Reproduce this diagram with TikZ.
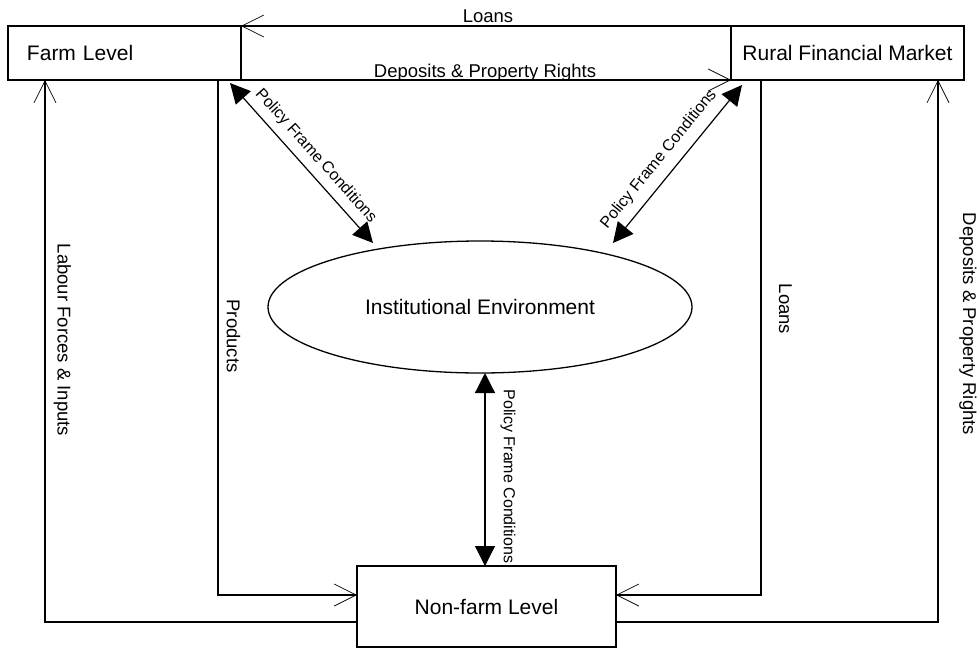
\documentclass[tikz,border=0pt]{standalone}
\usepackage{fontspec}
\setmainfont{Liberation Sans}
\usepackage{tikz}
\usetikzlibrary{shapes,arrows.meta,positioning,calc}

\begin{document}
\begin{tikzpicture}[x=1pt,y=-1pt,
    level/.style={draw,rectangle,line width=2pt,outer sep=0pt,minimum height=54pt,minimum width=233pt,font=\fontsize{21}{25}\selectfont},
    flow/.style={line width=1.4pt,-{Straight Barb[length=22pt,width=22pt,line width=0.7pt]}},
    policy/.style={line width=1.2pt,{Triangle[length=20pt,width=20pt]}-{Triangle[length=20pt,width=20pt]}},
    lbl/.style={font=\fontsize{18.5}{22}\selectfont},
    plbl/.style={font=\fontsize{16}{19}\selectfont}]
    \useasboundingbox (0,0) rectangle (979,648);
    % Levels
    \node[level,text width=195pt,align=left,inner xsep=19pt] (farm) at (124.5,53) {Farm Level};
    \node[level] (rfm) at (847.5,53) {Rural Financial Market};
    \node[level,minimum width=259pt,minimum height=81pt] (nonfarm) at (486.5,606.5) {Non-farm Level};
    \node[draw,ellipse,line width=1.3pt,outer sep=0pt,minimum width=424pt,minimum height=132pt,font=\fontsize{21}{25}\selectfont] (inst) at (480,307) {Institutional Environment};
    % Farm <-> market
    \draw[flow] (rfm.north west) -- (farm.north east);
    \draw[flow] (farm.south east) -- (rfm.south west);
    \node[lbl,anchor=base] (loansT) at (488,22) {Loans};
    \node[lbl,anchor=base] (depT) at (485,77) {Deposits \& Property Rights};
    % Flows to the non-farm level
    \coordinate (lab) at (45,622);
    \coordinate (prod) at (218,595);
    \coordinate (lnr) at (761,595);
    \coordinate (dpr) at (938,622);
    \draw[flow] (nonfarm.west |- lab) -| (farm.south -| lab);
    \draw[flow] (farm.south -| prod) |- (nonfarm.west |- prod);
    \draw[flow] (rfm.south -| lnr) |- (nonfarm.east |- lnr);
    \draw[flow] (nonfarm.east |- dpr) -| (rfm.south -| dpr);
    \node[lbl,rotate=-90] (labT) at (62.5,340) {Labour Forces \& Inputs};
    \node[lbl,rotate=-90] (prodT) at (233.5,336) {Products};
    \node[lbl,rotate=-90] (lnrT) at (785.5,309) {Loans};
    \node[lbl,rotate=-90] (dprT) at (968,324) {Deposits \& Property Rights};
    % Policy frame conditions
    \coordinate (pl) at (373,243);
    \coordinate (pr) at (613,243);
    \coordinate (pv) at (485,0);
    \draw[policy] ([shift={(-11,3)}]farm.south east) -- (pl)
        node[plbl,sloped,pos=0.52,above=4pt] {Policy Frame Conditions};
    \draw[policy] (pr) -- ([shift={(11,5)}]rfm.south west)
        node[plbl,sloped,pos=0.46,above=6pt] {Policy Frame Conditions};
    \draw[policy] (inst.south -| pv) -- (nonfarm.north -| pv);
    \node[plbl,rotate=-90] (pvT) at (508,476.5) {Policy Frame Conditions};
\end{tikzpicture}
\end{document}
